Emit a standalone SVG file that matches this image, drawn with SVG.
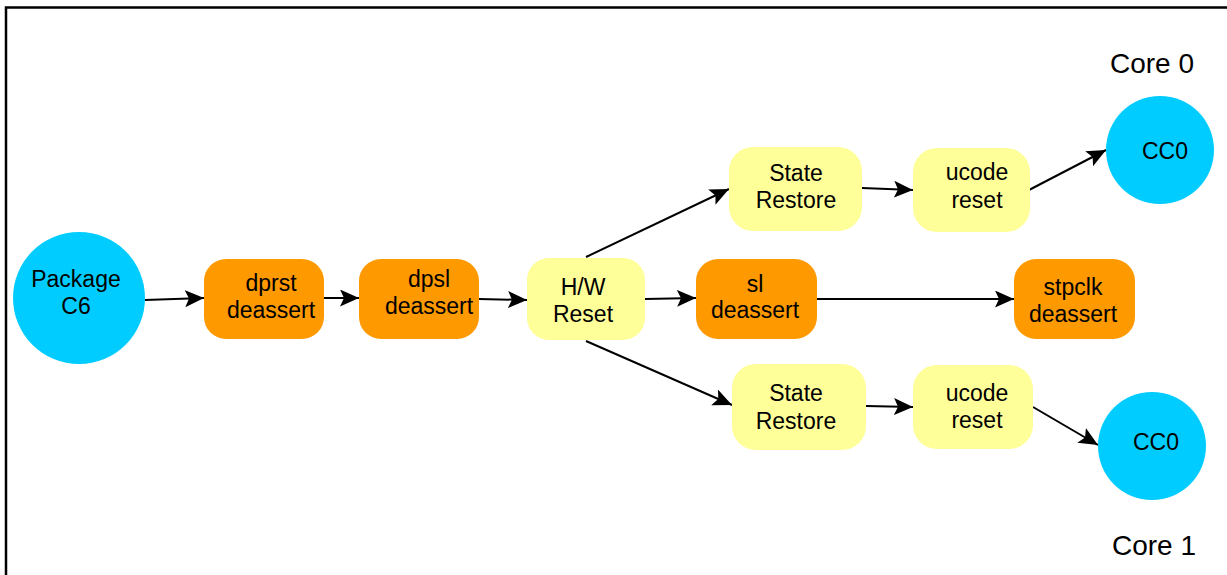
<svg xmlns="http://www.w3.org/2000/svg" width="1227" height="575" viewBox="0 0 1227 575">
<style>
.t{font-family:"Liberation Sans",Arial,sans-serif;font-size:23px;fill:#000;text-anchor:middle}
.core{font-family:"Liberation Sans",Arial,sans-serif;font-size:28px;fill:#000}
.blue{fill:#00CCFF}
.orange{fill:#FF9900}
.yellow{fill:#FFFF99}
.c{stroke:#000;stroke-width:2;fill:none;marker-end:url(#ah)}
</style>
<defs>
<marker id="ah" markerUnits="userSpaceOnUse" markerWidth="20" markerHeight="18" refX="19" refY="8.5" orient="auto">
<path d="M0,0 L19,8.5 L0,17 L4,8.5 z" fill="#000"/>
</marker>
</defs>
<rect x="6" y="7.5" width="1240" height="590" fill="#fff" stroke="#000" stroke-width="2.5"/>
<text class="core" x="1110" y="73">Core 0</text>
<text class="core" x="1112" y="555">Core 1</text>
<g id="connectors">
<line class="c" x1="145" y1="300" x2="204" y2="298"/>
<line class="c" x1="324" y1="298" x2="359" y2="298"/>
<line class="c" x1="479" y1="299" x2="527" y2="300"/>
<line class="c" x1="586" y1="257" x2="729" y2="189"/>
<line class="c" x1="645" y1="299" x2="696" y2="298"/>
<line class="c" x1="586" y1="341" x2="732" y2="405"/>
<line class="c" x1="862" y1="188" x2="913" y2="190"/>
<line class="c" x1="817" y1="299" x2="1014" y2="299"/>
<line class="c" x1="866" y1="406" x2="913" y2="407"/>
<line class="c" x1="1029" y1="190" x2="1106" y2="150"/>
<line class="c" x1="1033" y1="407" x2="1098" y2="445"/>
</g>
<g id="package-c6"><circle class="blue" cx="79" cy="298" r="66"/><text class="t" x="76" y="287">Package</text><text class="t" x="76" y="314">C6</text></g>
<g id="dprst"><rect class="orange" x="204" y="259" width="120" height="80" rx="22"/><text class="t" x="271" y="291">dprst</text><text class="t" x="271" y="318">deassert</text></g>
<g id="dpsl"><rect class="orange" x="359" y="259" width="120" height="80" rx="22"/><text class="t" x="429" y="287">dpsl</text><text class="t" x="429" y="314">deassert</text></g>
<g id="hw-reset"><rect class="yellow" x="527" y="258" width="118" height="82" rx="22"/><text class="t" x="583" y="295">H/W</text><text class="t" x="583" y="322">Reset</text></g>
<g id="state-restore-0"><rect class="yellow" x="729" y="147" width="133" height="84" rx="24"/><text class="t" x="796" y="181">State</text><text class="t" x="796" y="208">Restore</text></g>
<g id="ucode-reset-0"><rect class="yellow" x="913" y="148" width="117" height="84" rx="24"/><text class="t" x="977" y="180">ucode</text><text class="t" x="977" y="208">reset</text></g>
<g id="cc0-0"><circle class="blue" cx="1160" cy="150" r="54"/><text class="t" x="1165" y="159">CC0</text></g>
<g id="sl"><rect class="orange" x="696" y="259" width="121" height="80" rx="22"/><text class="t" x="755" y="292">sl</text><text class="t" x="755" y="318">deassert</text></g>
<g id="stpclk"><rect class="orange" x="1014" y="259" width="121" height="80" rx="22"/><text class="t" x="1073" y="295">stpclk</text><text class="t" x="1073" y="322">deassert</text></g>
<g id="state-restore-1"><rect class="yellow" x="732" y="364" width="134" height="86" rx="24"/><text class="t" x="796" y="401">State</text><text class="t" x="796" y="429">Restore</text></g>
<g id="ucode-reset-1"><rect class="yellow" x="913" y="365" width="120" height="84" rx="24"/><text class="t" x="977" y="401">ucode</text><text class="t" x="977" y="428">reset</text></g>
<g id="cc0-1"><circle class="blue" cx="1152" cy="446" r="54"/><text class="t" x="1156" y="450">CC0</text></g>
</svg>
